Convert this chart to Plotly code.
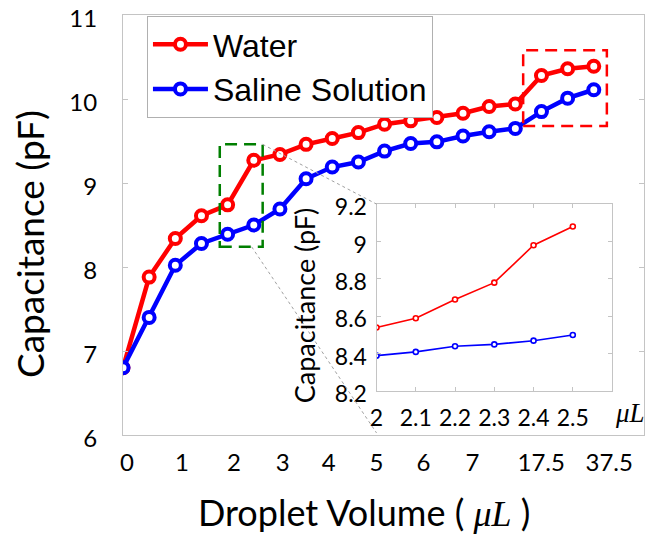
import plotly.graph_objects as go

# ---------------- data ----------------
idx = list(range(19))
water = [6.80, 7.88, 8.34, 8.61, 8.74, 9.27, 9.34, 9.46, 9.53, 9.60, 9.70, 9.74,
         9.78, 9.83, 9.91, 9.94, 10.28, 10.36, 10.39]
saline = [6.80, 7.40, 8.02, 8.28, 8.39, 8.50, 8.69, 9.05, 9.19, 9.25, 9.38, 9.47,
          9.49, 9.56, 9.61, 9.65, 9.85, 10.01, 10.11]
x_tick_labels = ['0', '1', '2', '3', '4', '5', '6', '7', '17.5', '37.5']
x_tick_pos = [0.15, 2.25, 4.24, 6.11, 7.86, 9.69, 11.49, 13.36, 15.99, 18.59]
y_ticks = [6, 7, 8, 9, 10, 11]

inset_x = [2.0, 2.1, 2.2, 2.3, 2.4, 2.5]
inset_x_labels = ['2', '2.1', '2.2', '2.3', '2.4', '2.5']
inset_water = [8.54, 8.59, 8.69, 8.78, 8.98, 9.08]
inset_saline = [8.39, 8.41, 8.44, 8.45, 8.47, 8.50]
inset_y_ticks = [8.2, 8.4, 8.6, 8.8, 9.0, 9.2]
inset_y_labels = ['8.2', '8.4', '8.6', '8.8', '9', '9.2']

zoom_idx = [4, 5]        # points shown magnified in the inset
jump_idx = [16, 17, 18]  # highlighted large-volume points

RED = '#ff0000'
BLUE = '#0000ff'
GREEN = '#007f00'
AX = '#c4c4c4'
TICKFONT = 'Lato'

# ---------------- layout geometry ----------------
W, H = 648, 537
ML, MR, MT, MB = 123, 3, 13, 102
XR = [0, 19.92]
YR = [6, 11]
INSET_XD = [0.4866, 0.9387]
INSET_YD = [0.1043, 0.5498]
PW = W - ML - MR
PH = H - MT - MB


def data_to_paper(x, y):
    return ((x - XR[0]) / (XR[1] - XR[0]), (y - YR[0]) / (YR[1] - YR[0]))


def px_to_paper(px, py):
    return ((px - ML) / PW, (H - MB - py) / PH)


fig = go.Figure()

fig.add_trace(go.Scatter(
    x=idx, y=water, name='Water', mode='lines+markers', legendgroup='w',
    line=dict(color=RED, width=4.5),
    marker=dict(symbol='circle', size=11, color='white', line=dict(color=RED, width=4)),
))
fig.add_trace(go.Scatter(
    x=idx, y=saline, name='Saline Solution', mode='lines+markers', legendgroup='s',
    line=dict(color=BLUE, width=4.5),
    marker=dict(symbol='circle', size=11, color='white', line=dict(color=BLUE, width=4)),
))

fig.add_trace(go.Scatter(
    x=inset_x, y=inset_water, mode='lines+markers', showlegend=False,
    xaxis='x2', yaxis='y2',
    line=dict(color=RED, width=1.6),
    marker=dict(symbol='circle', size=5, color='white', line=dict(color=RED, width=1.6)),
))
fig.add_trace(go.Scatter(
    x=inset_x, y=inset_saline, mode='lines+markers', showlegend=False,
    xaxis='x2', yaxis='y2',
    line=dict(color=BLUE, width=1.6),
    marker=dict(symbol='circle', size=5, color='white', line=dict(color=BLUE, width=1.6)),
))

# highlight boxes derived from data
gx0 = min(zoom_idx) - 0.3
gx1 = max(zoom_idx) + 0.34
gy0 = min(saline[i] for i in zoom_idx) - 0.15
gy1 = max(water[i] for i in zoom_idx) + 0.19
rx0 = min(jump_idx) - 0.7
rx1 = max(jump_idx) + 0.5
ry0 = min(saline[i] for i in jump_idx) - 0.17
ry1 = max(water[i] for i in jump_idx) + 0.19

shapes = [
    dict(type='rect', xref='x', yref='y', x0=gx0, x1=gx1, y0=gy0, y1=gy1,
         line=dict(color=GREEN, width=2.5, dash='12px,7px')),
    dict(type='rect', xref='x', yref='y', x0=rx0, x1=rx1, y0=ry0, y1=ry1,
         line=dict(color=RED, width=2.5, dash='12px,7px')),
]
# connector lines from the green box to the inset
p1 = data_to_paper(gx1, gy1)
p2 = data_to_paper(gx1 - 0.42, gy0)
shapes.append(dict(type='line', xref='paper', yref='paper',
                   x0=p1[0], y0=p1[1], x1=INSET_XD[0], y1=INSET_YD[1],
                   line=dict(color='#a0a0a0', width=1, dash='dot')))
shapes.append(dict(type='line', xref='paper', yref='paper',
                   x0=p2[0], y0=p2[1], x1=INSET_XD[0], y1=0.005,
                   line=dict(color='#a0a0a0', width=1, dash='dot')))

a1 = px_to_paper(30, 243)
a2 = px_to_paper(364, 512)
a3 = px_to_paper(305, 305)
a4 = px_to_paper(631, 413)
annotations = [
    dict(text='Capacitance (pF)', xref='paper', yref='paper', x=a1[0], y=a1[1],
         textangle=-90, showarrow=False, xanchor='center', yanchor='middle',
         font=dict(family=TICKFONT, size=37, color='black')),
    dict(text='Droplet Volume ( <span style="font-family:Liberation Serif"><i>μL</i></span> )',
         xref='paper', yref='paper', x=a2[0], y=a2[1],
         showarrow=False, xanchor='center', yanchor='middle',
         font=dict(family=TICKFONT, size=36, color='black')),
    dict(text='Capacitance (pF)', xref='paper', yref='paper', x=a3[0], y=a3[1],
         textangle=-90, showarrow=False, xanchor='center', yanchor='middle',
         font=dict(family=TICKFONT, size=27, color='black')),
    dict(text='<i>μL</i>', xref='paper', yref='paper', x=a4[0], y=a4[1],
         showarrow=False, xanchor='center', yanchor='middle',
         font=dict(family='Liberation Serif', size=27, color='black')),
]

lg = px_to_paper(147, 14)
fig.update_layout(
    width=W, height=H,
    margin=dict(l=ML, r=MR, t=MT, b=MB),
    paper_bgcolor='white', plot_bgcolor='white',
    shapes=shapes, annotations=annotations,
    legend=dict(x=lg[0], y=lg[1], xanchor='left', yanchor='top',
                bordercolor='#b0b0b0', borderwidth=1, bgcolor='white',
                font=dict(family='Liberation Sans', size=32, color='black'),
                tracegroupgap=0, itemwidth=55),
    xaxis=dict(range=XR, domain=[0, 1], showline=True, linecolor=AX, linewidth=1,
               mirror=True, showgrid=False, zeroline=False,
               tickvals=x_tick_pos, ticktext=x_tick_labels, ticks='',
               ticklabelstandoff=6,
               tickfont=dict(family=TICKFONT, size=24, color='black')),
    yaxis=dict(range=YR, domain=[0, 1], showline=True, linecolor=AX, linewidth=1,
               mirror='ticks', showgrid=False, zeroline=False,
               tickvals=y_ticks, ticks='inside', ticklen=5, tickcolor=AX,
               ticklabelstandoff=20, ticklabelshift=4,
               tickfont=dict(family=TICKFONT, size=24, color='black')),
    xaxis2=dict(range=[2, 2.6], domain=INSET_XD, anchor='y2', showline=True,
                linecolor=AX, linewidth=1, mirror='ticks', showgrid=False, zeroline=False,
                tickvals=inset_x, ticktext=inset_x_labels, ticks='inside', ticklen=4,
                tickcolor=AX, ticklabelstandoff=6,
                tickfont=dict(family=TICKFONT, size=23, color='black')),
    yaxis2=dict(range=[8.2, 9.2], domain=INSET_YD, anchor='x2', showline=True,
                linecolor=AX, linewidth=1, mirror='ticks', showgrid=False, zeroline=False,
                tickvals=inset_y_ticks, ticktext=inset_y_labels, ticks='inside', ticklen=4,
                tickcolor=AX, ticklabelstandoff=4, ticklabelshift=3,
                tickfont=dict(family=TICKFONT, size=23, color='black')),
)

fig.write_html('out.html', config={'displayModeBar': False},
               post_script="document.body.style.margin='0';")
